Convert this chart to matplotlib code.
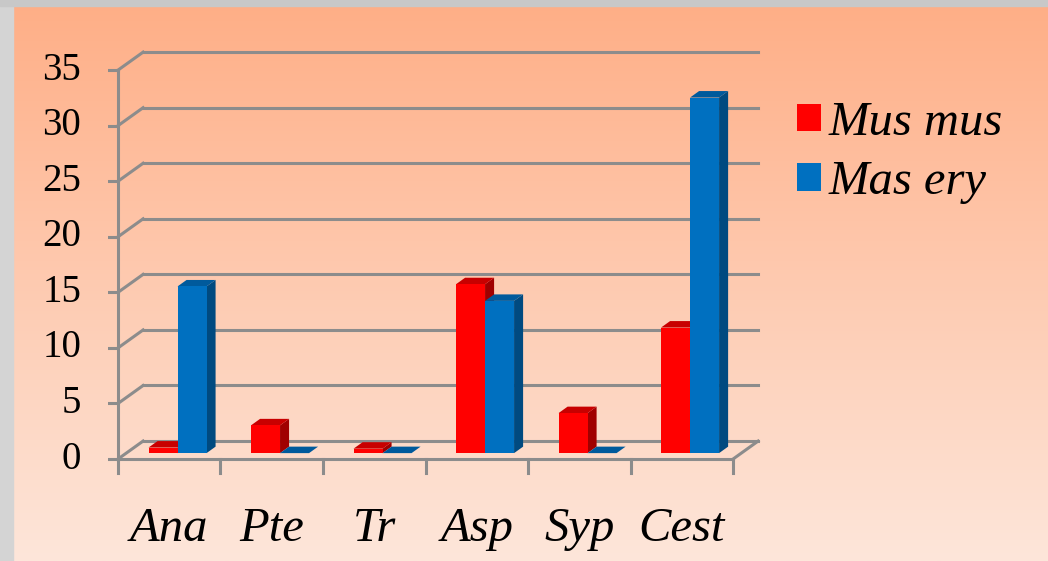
import os
import numpy as np
import matplotlib.pyplot as plt
from matplotlib.patches import Polygon, Patch
from matplotlib.font_manager import FontProperties

# dados
categorias = ['Ana', 'Pte', 'Tr', 'Asp', 'Syp', 'Cest']
mus_mus = [0.5, 2.5, 0.4, 15.2, 3.6, 11.3]
mas_ery = [15.0, 0.0, 0.0, 13.7, 0.0, 32.0]
series = ['Mus mus', 'Mas ery']
y_ticks = [0, 5, 10, 15, 20, 25, 30, 35]

# fontes serifadas (arquivo direto, com alternativa pelo nome)
pasta = '/usr/share/fonts/truetype/liberation/'


def fonte(arquivo, size, style='normal'):
    caminho = pasta + arquivo
    if os.path.exists(caminho):
        return FontProperties(fname=caminho, size=size)
    return FontProperties(family='Liberation Serif', style=style, size=size)


f_num = fonte('LiberationSerif-Regular.ttf', 28)
f_cat = fonte('LiberationSerif-Italic.ttf', 35, 'italic')
f_leg = fonte('LiberationSerif-Italic.ttf', 35, 'italic')

# cores (frente, topo, lado)
cores = {
    'Mus mus': ('#ff0000', '#c80000', '#a00000'),
    'Mas ery': ('#0070c0', '#005a9c', '#004a80'),
}
grade = '#8c8c8c'

# profundidade do "3D" em unidades de dados
DX, DY = 0.245, 1.62
D0, DD = 0.33, 0.36   # início e espessura das barras na profundidade
larg = 0.283

fig = plt.figure(figsize=(10.48, 5.61), dpi=100)

# fundo em degradê
bg = fig.add_axes([0, 0, 1, 1])
grad = np.linspace(0, 1, 256)[:, None]
topo = np.array([255, 174, 134]) / 255
base = np.array([253, 230, 218]) / 255
img = topo[None, None, :] * (1 - grad[:, :, None]) + base[None, None, :] * grad[:, :, None]
bg.imshow(img, aspect='auto', extent=[0, 1, 0, 1])
bg.add_patch(plt.Rectangle((0, 0), 13 / 1048, 1, color='#d4d4d4', zorder=3))
bg.add_patch(plt.Rectangle((0, 1 - 6 / 561), 1, 6 / 561, color='#c8c8c8', zorder=3))
bg.set_xlim(0, 1)
bg.set_ylim(0, 1)
bg.axis('off')

ax = fig.add_axes([0.1028, 0.152, 0.626, 0.7626])
ax.set_xlim(-0.1, 6.3)
ax.set_ylim(-1.5, 37)
ax.axis('off')
ax.patch.set_alpha(0)

n = len(categorias)
lw = 2.2
# grade: parede do fundo + diagonais da parede lateral
for v in y_ticks:
    ax.plot([DX, n + DX], [v + DY, v + DY], color=grade, lw=lw, zorder=1)
    ax.plot([0, DX], [v, v + DY], color=grade, lw=lw, zorder=1)
    ax.plot([-0.105, 0], [v, v], color=grade, lw=lw, zorder=1)
    ax.text(-0.36, v, str(v), ha='right', va='center', fontproperties=f_num, color='black')
ax.plot([0, 0], [0, y_ticks[-1]], color=grade, lw=lw, zorder=1)
ax.plot([0, n], [0, 0], color=grade, lw=lw, zorder=1)
ax.plot([n, n + DX], [0, DY], color=grade, lw=lw, zorder=1)
for i in range(n + 1):
    ax.plot([i, i], [0, -1.25], color=grade, lw=lw, zorder=1)


def barra(x0, v, nome):
    frente, cima, lado = cores[nome]
    ox, oy = D0 * DX, D0 * DY
    ddx, ddy = DD * DX, DD * DY
    xl, xr = x0 + ox, x0 + larg + ox
    # face lateral
    ax.add_patch(Polygon([(xr, oy), (xr, v + oy), (xr + ddx, v + oy + ddy), (xr + ddx, oy + ddy)],
                         closed=True, facecolor=lado, edgecolor='none', zorder=2))
    # topo
    ax.add_patch(Polygon([(xl, v + oy), (xr, v + oy), (xr + ddx, v + oy + ddy), (xl + ddx, v + oy + ddy)],
                         closed=True, facecolor=cima, edgecolor='none', zorder=2))
    # frente
    if v > 0:
        ax.bar(xl, v, width=larg, bottom=oy, align='edge', color=frente, zorder=2)


for i in range(n):
    centro = i + 0.5
    barra(centro - larg, mus_mus[i], 'Mus mus')
    barra(centro, mas_ery[i], 'Mas ery')
    ax.text(centro, -4.3, categorias[i], ha='center', va='top', fontproperties=f_cat)

handles = [Patch(facecolor=cores[s][0]) for s in series]
fig.legend(handles, series, loc='upper left', bbox_to_anchor=(0.7415, 0.855),
           frameon=False, prop=f_leg,
           handlelength=0.5, handleheight=0.5, handletextpad=0.15, labelspacing=0.32,
           borderaxespad=0)

fig.savefig('out.png', dpi=100)
